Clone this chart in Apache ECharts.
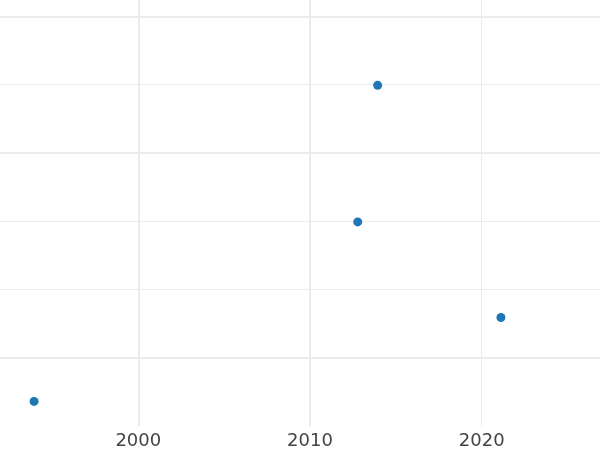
<!DOCTYPE html>
<html>
<head>
<meta charset="utf-8">
<script src="https://cdn.jsdelivr.net/npm/echarts@6/dist/echarts.min.js"></script>
<style>html,body{margin:0;padding:0;background:#fff;}#c{width:600px;height:450px;}</style>
</head>
<body>
<div id="c"></div>
<script>
// Data
var years = [2013.94, 2012.78, 2021.12, 1993.93];
var values = [4.99, 2.99, 1.59, 0.36];
var xTickLabels = [2000, 2010, 2020];
var xMajorGrid = [2000, 2010];
var xMinorGrid = [2020];
var yMajorGrid = [1, 4, 6];
var yMinorGrid = [2, 3, 5];

var points = years.map(function (y, i) { return [y, values[i]]; });
var gridColor = '#ebebeb';
var markData = [];
xMajorGrid.forEach(function (v) { markData.push({ xAxis: v, lineStyle: { width: 2, color: gridColor, type: 'solid' } }); });
xMinorGrid.forEach(function (v) { markData.push({ xAxis: v, lineStyle: { width: 1, color: gridColor, type: 'solid' } }); });
yMajorGrid.forEach(function (v) { markData.push({ yAxis: v, lineStyle: { width: 2, color: gridColor, type: 'solid' } }); });
yMinorGrid.forEach(function (v) { markData.push({ yAxis: v, lineStyle: { width: 1, color: gridColor, type: 'solid' } }); });

var chart = echarts.init(document.getElementById('c'), null, { renderer: 'canvas' });
chart.setOption({
  animation: false,
  backgroundColor: '#ffffff',
  grid: { left: 0, right: 0, top: 0, bottom: 23.7, containLabel: false },
  xAxis: {
    type: 'value', min: 1991.945, max: 2026.89,
    axisLine: { show: false }, axisTick: { show: false },
    splitLine: { show: false },
    axisLabel: {
      customValues: xTickLabels, fontSize: 18, color: '#444444',
      fontFamily: 'DejaVu Sans', margin: 6,
      formatter: function (v) { return String(Math.round(v)); }
    }
  },
  yAxis: {
    type: 'value', min: 0, max: 6.24,
    axisLine: { show: false }, axisTick: { show: false },
    axisLabel: { show: false }, splitLine: { show: false }
  },
  series: [
    {
      type: 'scatter', data: [], z: 1, silent: true,
      markLine: { z: 1, silent: true, symbol: ['none', 'none'], label: { show: false }, animation: false, data: markData }
    },
    {
      type: 'scatter', data: points, z: 10, symbolSize: 9,
      itemStyle: { color: '#1f77b4', opacity: 1 }
    }
  ]
});
</script>
</body>
</html>
